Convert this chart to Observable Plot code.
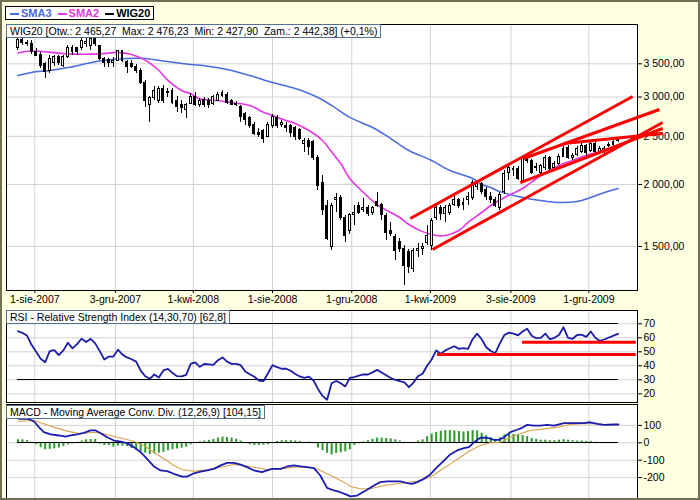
<!DOCTYPE html>
<html>
<head>
<meta charset="utf-8">
<script src="https://cdn.jsdelivr.net/npm/d3@7"></script>
<script src="https://cdn.jsdelivr.net/npm/@observablehq/plot@0.6"></script>
<style>
  html,body{margin:0;padding:0;background:#ffffe1;}
  #wrap{position:relative;width:700px;height:500px;background:#ffffe1;overflow:hidden;font-family:"Liberation Sans",Arial,sans-serif;}
  .pan{position:absolute;left:0;}
  .box{position:absolute;background:#fff;border:1px solid #56718f;font-size:10.5px;line-height:12px;height:12px;padding:0 3px;white-space:pre;color:#000;}
  #legend{position:absolute;left:5px;top:6px;height:12px;border:1px solid #000;background:#fff;font-weight:bold;font-size:11px;line-height:12px;padding:0 3px 0 1px;white-space:nowrap;}
  #legend .ln{display:inline-block;width:9px;height:2px;vertical-align:middle;margin:0 2px 0 3px;}
  #border{position:absolute;left:0;top:0;width:700px;height:500px;box-sizing:border-box;border:2px solid #707055;pointer-events:none;}
</style>
</head>
<body>
<div id="wrap">
  <div class="pan" id="main" style="top:0"></div>
  <div class="pan" id="rsi" style="top:305px"></div>
  <div class="pan" id="macd" style="top:400px"></div>
  <div id="legend"><span class="ln" style="background:#4a6ae0"></span><span style="color:#4a6ae0">SMA3</span><span class="ln" style="background:#e535e5;margin-left:6px"></span><span style="color:#e535e5">SMA2</span><span class="ln" style="background:#000;margin-left:6px"></span><span>WIG20</span></div>
  <div class="box" id="t1" style="left:6px;top:24px"></div>
  <div class="box" id="t2" style="left:6px;top:310px"></div>
  <div class="box" id="t3" style="left:6px;top:405px"></div>
  <div id="border"></div>
</div>
<script>
// ---- data ----
const titleMain = "WIG20 [Otw.: 2 465,27  Max: 2 476,23  Min: 2 427,90  Zam.: 2 442,38] (+0,1%)";
const titleRsi = "RSI - Relative Strength Index (14,30,70) [62,8]";
const titleMacd = "MACD - Moving Average Conv. Div. (12,26,9) [104,15]";

const tickDates = ["2007-08-01","2007-12-03","2008-04-01","2008-08-01","2008-12-01","2009-04-01","2009-08-03","2009-12-01"];
const tickLabels = ["1-sie-2007","3-gru-2007","1-kwi-2008","1-sie-2008","1-gru-2008","1-kwi-2009","3-sie-2009","1-gru-2009"];
const priceTicks = [1500, 2000, 2500, 3000, 3500];
const rsiTicks = [20, 30, 40, 50, 60, 70];
const macdTicks = [100, 0, -100, -200];

// weekly candles (first week ending 2007-07-06)
const opens = [3758,3900,3846,3828,3689,3654,3489,3393,3521,3604,3472,3604,3689,3758,3758,3828,3810,3936,3793,3587,
3570,3521,3554,3706,3537,3505,3456,3393,3209,2885,2980,2952,3121,3050,3092,2952,2885,2819,2911,3007,
2898,2966,2939,2911,2952,3021,3035,2952,2911,2871,2767,2716,2641,2545,2557,2498,2617,2716,2641,2629,
2617,2593,2569,2418,2452,2430,2256,2009,1814,1493,1857,1874,1708,1615,1732,1806,1773,1789,1748,1840,
1822,1724,1615,1571,1528,1486,1459,1354,1472,1486,1521,1500,1708,1789,1740,1756,1822,1857,1822,1857,
1874,1981,2000,1945,1891,1857,1789,1927,2114,2134,2144,2037,2266,2225,2154,2114,2154,2256,2154,2204,
2276,2374,2256,2298,2330,2396,2341,2418,2319,2330,2396,2407,2465.27];
const highs = [3936,3936,3900,3900,3758,3689,3521,3637,3637,3637,3637,3810,3810,3775,3936,3936,3936,3972,3810,3604,
3587,3604,3723,3723,3554,3554,3489,3424,3239,3007,3150,3150,3165,3121,3121,3007,2952,2911,3050,3064,
2980,2994,2980,3021,3064,3092,3064,2966,2939,2885,2793,2742,2666,2593,2581,2666,2767,2754,2691,2666,
2641,2617,2593,2475,2475,2452,2287,2085,1857,1831,1918,1900,1732,1748,1814,1839,1874,1814,1806,1927,
1831,1748,1677,1585,1556,1507,1479,1486,1521,1521,1653,1708,1814,1814,1814,1831,1891,1874,1874,1927,
2037,2028,2018,1972,1927,1883,1927,2134,2184,2174,2174,2266,2287,2245,2204,2194,2287,2276,2225,2298,
2385,2396,2309,2385,2418,2407,2441,2441,2385,2385,2430,2464,2476.23];
const lows = [3723,3810,3793,3654,3620,3424,3270,3346,3456,3472,3440,3587,3637,3637,3723,3775,3723,3793,3554,3440,
3440,3440,3537,3521,3346,3424,3346,3180,2858,2666,2952,2911,2911,2994,2898,2793,2780,2716,2898,2871,
2858,2858,2845,2885,2939,2994,2898,2885,2871,2666,2629,2593,2510,2487,2418,2487,2593,2593,2605,2545,
2487,2452,2452,2319,2287,2235,1945,1732,1542,1472,1756,1692,1528,1585,1653,1740,1756,1724,1732,1797,
1692,1542,1571,1405,1459,1252,1323,1329,1425,1438,1507,1472,1692,1692,1677,1732,1806,1789,1773,1814,
1857,1945,1909,1857,1831,1797,1773,1909,2037,2076,2037,2009,2204,2095,2124,2095,2134,2124,2134,2184,
2266,2245,2235,2276,2309,2276,2319,2309,2298,2309,2374,2385,2427.90];
const closes = [3900,3846,3828,3689,3637,3472,3362,3587,3604,3521,3620,3775,3775,3689,3882,3864,3918,3828,3587,3521,
3521,3554,3706,3554,3456,3456,3393,3209,2952,2980,3092,3121,2952,3078,2925,2858,2845,2885,3007,2898,
2952,2898,2898,2994,3035,3050,2925,2898,2898,2729,2691,2617,2533,2510,2475,2641,2729,2629,2654,2593,
2545,2498,2475,2452,2385,2256,1990,1773,1556,1814,1874,1708,1578,1732,1748,1756,1789,1740,1789,1814,
1732,1600,1593,1472,1486,1373,1367,1472,1486,1493,1578,1692,1789,1740,1789,1814,1857,1814,1839,1891,
2009,2000,1927,1883,1857,1814,1909,2104,2154,2144,2056,2256,2225,2114,2164,2174,2266,2144,2204,2276,
2363,2266,2287,2363,2396,2319,2418,2330,2363,2363,2407,2441,2442.38];

// moving averages: [week index, value]
const sma3 = [[0,3315],[3,3362],[7,3393],[11,3440],[18,3545],[24,3587],[28,3587],[33,3537],[38,3489],[41,3470],[46,3410],
[51,3315],[56,3209],[61,3121],[66,2994],[69,2885],[73,2729],[78,2605],[82,2475],[86,2341],[91,2235],[95,2134],
[100,2056],[102,2000],[104,1972],[106,1935],[111,1883],[115,1857],[119,1839],[123,1848],[126,1883],[129,1927],[132,1963]];
const sma2 = [[0,3680],[3,3715],[11,3665],[18,3665],[22,3690],[25,3654],[28,3560],[31,3393],[33,3240],[36,3092],[38,3047],
[40,2976],[44,2952],[47,2925],[51,2885],[54,2797],[56,2754],[59,2691],[61,2654],[64,2569],[67,2452],[69,2325],[71,2204],
[73,2056],[76,1927],[79,1822],[82,1756],[84,1716],[86,1661],[89,1607],[92,1578],[94,1578],[97,1615],[99,1677],[102,1756],
[104,1814],[107,1883],[111,1963],[115,2085],[119,2184],[122,2235],[125,2287],[129,2341],[132,2385]];

// trend lines on price panel: [startWeek, startValue, endWeek, endValue]
const redMain = [[86.3,1708,135.2,3007],[91.2,1479,141.8,2666],[111.2,2256,141.1,2832],[120,2418,141.8,2533],[110.5,2018,141.8,2593]];

// RSI weekly
const rsi = [64.7,63.5,61.6,55,50,45,42.6,50.5,51.2,47.6,
51,56.5,52.5,55.5,59.3,57,59.3,56,50.5,44.5,
46.6,46.6,51.5,48,46,44.7,43,36.6,32.5,30.7,
33.8,31.6,36.7,37.8,34.8,32.6,32.4,33.5,41.4,42.5,
39.3,41.3,41,40.7,44,46,43,41.4,41.4,40.5,
36,34,32.2,29.5,29,34.7,40.5,39,37.9,37.9,
36.5,34.2,32.4,31.4,32.3,29.5,23.5,18.5,15.8,27.5,
29.2,27.5,25.3,31.3,32,33,33.8,33.8,35.3,37.1,
35.2,33.2,31.3,30,29,28.2,24.7,28,32.5,34.3,
40,44.5,51,48.6,51,52.5,54,52.1,52.6,52.1,
59,63,59,53.3,50.6,49,56,62,63.7,63,
61.8,64.5,66.4,61.5,59.7,60,63,59,60,62,
67.5,60,59.3,62,62.2,60.7,64.5,60,57.8,58.8,
60.2,61.5,62.8];
const rsiBands = [30, 70];
const rsiRed = [[111,136,56.9],[92.3,136,48.1]];

// MACD line and signal: [week index, value]
const macdLine = [[0.2,138],[2,138],[3.5,124],[4.6,90],[5.7,61],[7.2,48],[9,42],[10.5,36],[11.6,42],[13,48],[14.5,57],[16,71],[17.1,71],
[18.2,55],[19.6,32],[21.1,13],[22.6,7],[24,-2],[25.5,-25],[27,-54],[28.4,-92],[29.9,-136],[31.4,-159],[32.8,-163],[34.3,-178],
[36.1,-194],[37.2,-194],[38.7,-175],[40.2,-165],[41.6,-159],[43.1,-150],[44.6,-130],[46,-115],[47.5,-115],[49,-125],[50.4,-140],
[51.9,-159],[53.7,-169],[54.8,-159],[55.9,-150],[57.8,-150],[59.2,-136],[60.7,-130],[62.2,-136],[63.6,-140],[65.1,-146],[66.5,-188],
[68,-259],[69.5,-274],[70.9,-284],[72.4,-299],[73.1,-308],[74.6,-303],[76.8,-270],[78.3,-245],[79.7,-226],[81.2,-222],[84.1,-222],
[85.6,-232],[86.7,-236],[87.8,-226],[89.3,-207],[90.7,-182],[92.2,-140],[93.7,-102],[95.1,-67],[96.6,-44],[98.1,-31],[99.2,-25],
[100.3,3],[101.7,29],[103.2,29],[104.7,17],[105.8,17],[106.9,32],[108.3,61],[109.8,75],[110.9,86],[112,103],[113.5,99],[114.9,99],
[116.4,103],[117.9,99],[120.1,113],[122.3,113],[124.5,113],[125.9,118],[127.4,109],[128.9,103],[131,105],[132.1,105]];
const signalLine = [[0.2,124],[3.5,128],[5.7,109],[7.9,90],[10.8,67],[13.8,52],[16.7,61],[18.9,52],[21.8,32],[25.5,9],[27.7,-16],
[29.9,-54],[32.1,-92],[34.3,-130],[36.1,-153],[38.7,-163],[41.6,-155],[44.6,-140],[47.5,-125],[49.7,-130],[51.9,-140],[54.8,-153],
[57.8,-150],[60.7,-140],[63.6,-140],[65.8,-150],[68,-178],[70.2,-207],[72.4,-236],[73.1,-251],[75.3,-264],[77.5,-264],[80.5,-245],
[84.1,-232],[87.8,-221],[90.7,-198],[92.9,-159],[95.1,-121],[97.3,-83],[99.5,-44],[101.7,-16],[103.9,0],[106.1,3],[108.3,32],
[110.5,52],[112.7,71],[115.7,80],[118.6,90],[121.5,105],[124.5,109],[127.4,109],[129.6,103],[132.1,103]];
const macdHist = [17,17,12,3,-10,-28,-40,-38,-35,-30,
-22,-12,-6,3,10,17,19,19,-8,-15,
-15,-25,-19,-19,-22,-33,-42,-50,-60,-67,
-64,-60,-55,-46,-40,-36,-31,-25,-11,-3,
5,10,13,19,27,33,30,27,20,10,
2,-10,-15,-15,-13,-11,-3,8,12,12,
12,10,8,3,5,-5,-30,-45,-60,-70,
-62,-57,-52,-40,-15,-5,5,12,20,27,
27,25,22,17,10,3,-3,3,10,17,
35,50,60,66,70,70,68,65,62,65,
70,68,55,40,30,20,28,45,50,48,
45,42,35,25,20,15,15,12,12,15,
18,15,12,10,10,8,8,3,0,0,
0,0,0];

// ---- helpers ----
const DAY = 864e5;
const start = Date.UTC(2007, 6, 6);
const wk = w => new Date(start + w * 7 * DAY);
const xDomain = [new Date(Date.UTC(2007,5,18,10)), new Date(Date.UTC(2010,1,13,22))];
const ticks = tickDates.map(s => new Date(s + "T00:00:00Z"));
const labelMap = new Map(ticks.map((d, i) => [+d, tickLabels[i]]));
const fmtPrice = v => d3.format(",.2f")(v).replace(/,/g, " ").replace(".", ",");
const FONT = "'Liberation Sans', Arial, sans-serif";
const GRID = "#d2d2d2";
const W = 700, ML = 6, MR = 63;

const candles = opens.map((o, i) => ({date: wk(i), open: o, high: highs[i], low: lows[i], close: closes[i]}));
const up = candles.filter(d => d.close >= d.open);
const down = candles.filter(d => d.close < d.open);
const bx1 = d => new Date(+d.date - 1.5 * DAY);
const bx2 = d => new Date(+d.date + 1.5 * DAY);

document.getElementById("t1").textContent = titleMain;
document.getElementById("t2").textContent = titleRsi;
document.getElementById("t3").textContent = titleMacd;

const style = {background: "transparent", fontFamily: FONT, fontSize: "10.5px", color: "black", overflow: "visible"};

// ---- price panel ----
const main = Plot.plot({
  width: W, height: 310, marginTop: 24, marginBottom: 20, marginLeft: ML, marginRight: MR,
  style,
  x: {type: "utc", domain: xDomain},
  y: {type: "log", domain: [1223, 4200]},
  marks: [
    Plot.frame({fill: "white", stroke: "none"}),
    Plot.gridX({ticks, stroke: GRID, strokeOpacity: 1}),
    Plot.gridY({ticks: priceTicks, stroke: GRID, strokeOpacity: 1}),
    Plot.line(sma3, {x: d => wk(d[0]), y: d => d[1], stroke: "#4a6ae0", strokeWidth: 1.5, curve: "catmull-rom"}),
    Plot.line(sma2, {x: d => wk(d[0]), y: d => d[1], stroke: "#e535e5", strokeWidth: 1.6, curve: "catmull-rom"}),
    Plot.ruleX(candles, {x: "date", y1: "low", y2: "high", stroke: "black", shapeRendering: "crispEdges"}),
    Plot.rect(up, {x1: bx1, x2: bx2, y1: "open", y2: "close", fill: "white", stroke: "black", shapeRendering: "crispEdges"}),
    Plot.rect(down, {x1: bx1, x2: bx2, y1: "open", y2: "close", fill: "black", stroke: "black", shapeRendering: "crispEdges"}),
    Plot.frame({stroke: "black", shapeRendering: "crispEdges"}),
    Plot.axisX({ticks, tickFormat: d => labelMap.get(+d), tickSize: 3, tickPadding: 2, label: null}),
    Plot.axisY({anchor: "right", ticks: priceTicks, tickFormat: fmtPrice, tickSize: 4, tickPadding: 2, label: null, textAnchor: "start"}),
    Plot.link(redMain, {x1: d => wk(d[0]), y1: d => d[1], x2: d => wk(d[2]), y2: d => d[3], stroke: "#ff0000", strokeWidth: 3})
  ]
});
document.getElementById("main").append(main);

// ---- RSI panel ----
const rsiData = rsi.map((v, i) => ({date: wk(i), v}));
const rsiPlot = Plot.plot({
  width: W, height: 100, marginTop: 5, marginBottom: 3, marginLeft: ML, marginRight: MR,
  style,
  x: {type: "utc", domain: xDomain, axis: null},
  y: {domain: [13.8, 79.5]},
  marks: [
    Plot.frame({fill: "white", stroke: "none"}),
    Plot.gridX({ticks, stroke: GRID, strokeOpacity: 1}),
    Plot.gridY({ticks: rsiTicks, stroke: GRID, strokeOpacity: 1}),
    Plot.ruleY(rsiBands, {y: d => d, x1: () => wk(0), x2: () => wk(132), stroke: "black", shapeRendering: "crispEdges"}),
    Plot.line(rsiData, {x: "date", y: "v", stroke: "#1c1ca8", strokeWidth: 1.8}),
    Plot.frame({stroke: "black", shapeRendering: "crispEdges"}),
    Plot.axisY({anchor: "right", ticks: rsiTicks, tickFormat: d => String(d), tickSize: 4, tickPadding: 2, label: null, textAnchor: "start"}),
    Plot.ruleY(rsiRed, {y: d => d[2], x1: d => wk(d[0]), x2: d => wk(d[1]), stroke: "#ff0000", strokeWidth: 3})
  ]
});
document.getElementById("rsi").append(rsiPlot);

// ---- MACD panel ----
const histData = macdHist.map((v, i) => ({date: wk(i), v})).filter(d => d.v !== 0);
const macdPlot = Plot.plot({
  width: W, height: 100, marginTop: 4, marginBottom: 2, marginLeft: ML, marginRight: MR,
  style,
  x: {type: "utc", domain: xDomain, axis: null},
  y: {domain: [-320, 220]},
  marks: [
    Plot.frame({fill: "white", stroke: "none"}),
    Plot.gridX({ticks, stroke: GRID, strokeOpacity: 1}),
    Plot.gridY({ticks: macdTicks, stroke: GRID, strokeOpacity: 1}),
    Plot.ruleX(histData, {x: "date", y1: 0, y2: "v", stroke: "#2b9a2b", strokeWidth: 2}),
    Plot.ruleY([0], {y: d => d, x1: () => wk(0), x2: () => wk(132), stroke: "black", shapeRendering: "crispEdges"}),
    Plot.line(signalLine, {x: d => wk(d[0]), y: d => d[1], stroke: "#d4a24c", strokeWidth: 1.1}),
    Plot.line(macdLine, {x: d => wk(d[0]), y: d => d[1], stroke: "#1c1cb0", strokeWidth: 1.8}),
    Plot.frame({stroke: "black", shapeRendering: "crispEdges"}),
    Plot.axisY({anchor: "right", ticks: macdTicks, tickFormat: d => String(d), tickSize: 4, tickPadding: 2, label: null, textAnchor: "start"})
  ]
});
document.getElementById("macd").append(macdPlot);
</script>
</body>
</html>
